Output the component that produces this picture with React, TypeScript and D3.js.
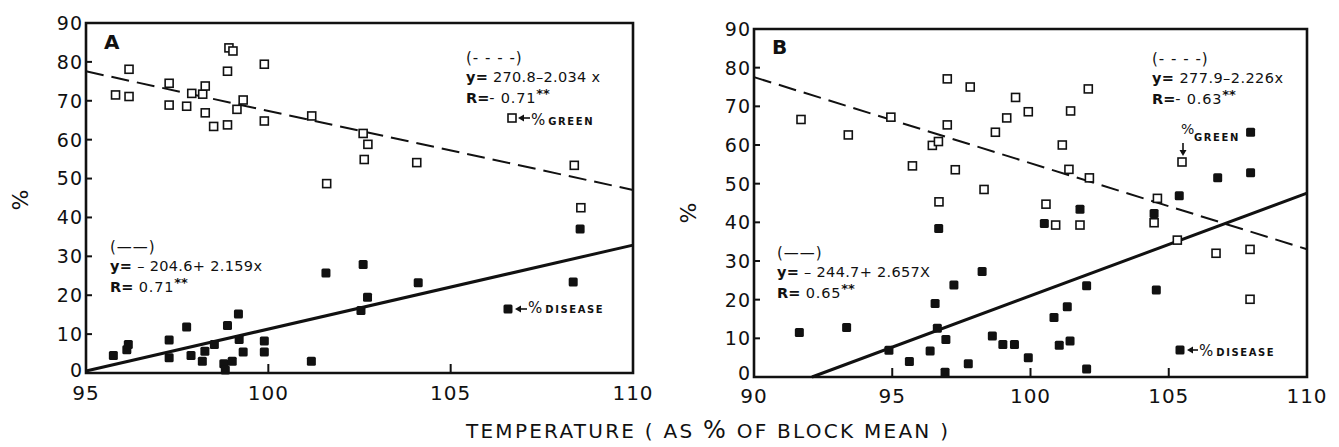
import React from 'react';
import * as d3 from 'd3';

// ---------- data ----------
const A_GREEN_X = [95.81, 96.18, 96.18, 97.28, 97.28, 97.76, 97.9, 98.2, 98.27, 98.27, 98.5, 98.88, 98.88, 98.92, 99.03, 99.14, 99.31, 99.89, 99.89, 101.19, 101.6, 102.6, 102.73, 102.63, 104.07, 108.39, 108.57];
const A_GREEN_Y = [71.5, 78.1, 71.1, 74.5, 68.9, 68.6, 71.9, 71.7, 73.8, 66.9, 63.4, 63.8, 77.6, 83.6, 82.8, 67.8, 70.2, 79.4, 64.8, 66.1, 48.7, 61.6, 58.8, 54.9, 54.1, 53.4, 42.5];
const A_DISEASE_X = [95.75, 96.12, 96.16, 97.28, 97.28, 97.76, 97.88, 98.19, 98.26, 98.52, 98.78, 98.82, 98.88, 99.01, 99.18, 99.2, 99.31, 99.89, 99.89, 101.18, 101.58, 102.6, 102.72, 102.54, 104.11, 108.36, 108.55];
const A_DISEASE_Y = [4.5, 6.0, 7.3, 8.5, 3.9, 11.8, 4.5, 3.0, 5.6, 7.3, 2.4, 0.8, 12.2, 3.0, 15.2, 8.6, 5.4, 8.2, 5.4, 3.0, 25.7, 27.9, 19.5, 16.1, 23.2, 23.4, 37.0];

const B_GREEN_X = [91.7, 93.41, 94.95, 95.73, 96.45, 96.67, 96.99, 96.99, 97.28, 97.82, 98.32, 98.73, 99.14, 99.46, 99.92, 96.69, 102.09, 101.45, 101.15, 101.39, 102.13, 104.59, 100.56, 100.91, 101.79, 104.47, 105.31, 106.71, 107.94, 107.94];
const B_GREEN_Y = [66.6, 62.6, 67.2, 54.6, 59.9, 60.9, 77.1, 65.2, 53.6, 75.0, 48.5, 63.3, 67.0, 72.3, 68.6, 45.3, 74.5, 68.8, 60.0, 53.7, 51.5, 46.2, 44.7, 39.3, 39.3, 39.9, 35.4, 32.0, 33.0, 20.1];
const B_DISEASE_X = [91.64, 93.35, 94.88, 95.62, 96.37, 96.55, 96.63, 96.68, 96.94, 96.91, 97.23, 97.75, 98.25, 98.62, 99.0, 99.42, 99.92, 100.5, 100.85, 101.04, 101.33, 101.43, 101.79, 102.03, 102.03, 104.47, 104.55, 105.38, 106.77, 107.96, 107.96];
const B_DISEASE_Y = [11.5, 12.8, 6.9, 4.0, 6.7, 19.0, 12.6, 38.4, 9.7, 1.2, 23.8, 3.4, 27.3, 10.6, 8.4, 8.4, 5.0, 39.7, 15.4, 8.2, 18.2, 9.3, 43.4, 23.6, 2.1, 42.3, 22.5, 46.9, 51.5, 52.8, 63.3];

// regression fits: [intercept, slope]
const A_GREEN_FIT = [270.8, -2.034];
const A_DISEASE_FIT = [-204.6, 2.159];
const B_GREEN_FIT = [277.9, -2.226];
const B_DISEASE_FIT = [-244.7, 2.657];

const Y_TICKS = [0, 10, 20, 30, 40, 50, 60, 70, 80, 90];
const A_X_TICKS = [95, 100, 105, 110];
const B_X_TICKS = [90, 95, 100, 105, 110];

const A_EQ_GREEN = ['270.8\u20132.034 x', '- 0.71'];
const A_EQ_DISEASE = ['\u2013 204.6+ 2.159x', ' 0.71'];
const B_EQ_GREEN = ['277.9\u20132.226x', '- 0.63'];
const B_EQ_DISEASE = ['\u2013 244.7+ 2.657X', ' 0.65'];

const DASH_KEY = '(- - - -)';
const SOLID_KEY = '(\u2014\u2014)';

const FONT = '"DejaVu Sans", sans-serif';

type PanelProps = {
  label: string;
  left: number; right: number; top: number; bottom: number;
  xDomain: [number, number];
  xTicks: number[];
  xLabelBaseline: number;
  gx: number[]; gy: number[]; dx: number[]; dy: number[];
  gFit: number[]; dFit: number[];
  eqG: string[]; eqD: string[];
  eqGPos: [number, number, number];
  eqDPos: [number, number, number];
  pctX: number; pctY: number;
  legend: React.ReactNode;
  labelPos: [number, number];
};

function fitSegment(fit: number[], domain: [number, number]) {
  let x0 = domain[0];
  const x1 = domain[1];
  if (fit[0] + fit[1] * x0 < 0) x0 = -fit[0] / fit[1];
  return [x0, x1].map((x) => [x, fit[0] + fit[1] * x] as [number, number]);
}

function Equation({ x, y, w, top, eq }: { x: number; y: number; w: number; top: string; eq: string[] }) {
  return (
    <g fontFamily={FONT} fill="#111">
      <text x={x} y={y} fontSize={15} letterSpacing={1}>{top}</text>
      <text x={x} y={y + 19} fontSize={14.5} textLength={w} lengthAdjust="spacing">
        <tspan fontWeight="bold">y=</tspan>
        <tspan> {eq[0]}</tspan>
      </text>
      <text x={x} y={y + 40} fontSize={14.5}>
        <tspan fontWeight="bold">R=</tspan>
        <tspan letterSpacing={0.8}>{eq[1]}</tspan>
        <tspan fontSize={13} fontWeight="bold" dy={-5}>**</tspan>
      </text>
    </g>
  );
}

function Panel(p: PanelProps) {
  const x = d3.scaleLinear().domain(p.xDomain).range([p.left, p.right]);
  const y = d3.scaleLinear().domain([0, 90]).range([p.bottom, p.top]);
  const line = d3.line<[number, number]>().x((d) => x(d[0])).y((d) => y(d[1]));
  const gSeg = fitSegment(p.gFit, p.xDomain);
  const dSeg = fitSegment(p.dFit, p.xDomain);
  const inner = p.xTicks.filter((t) => t !== p.xDomain[0] && t !== p.xDomain[1]);
  const zeroBaseline = p.xLabelBaseline - 23.5;
  return (
    <g>
      <path
        d={`M${p.left},${p.top}V${p.bottom}H${p.right}V${p.top}Z`}
        fill="none" stroke="#111" strokeWidth={2.6}
      />
      {Y_TICKS.filter((t) => t > 0 && t < 90).map((t) => (
        <line key={'yt' + t} x1={p.left} x2={p.left + 6} y1={y(t)} y2={y(t)} stroke="#111" strokeWidth={2} />
      ))}
      {inner.map((t) => (
        <line key={'xt' + t} x1={x(t)} x2={x(t)} y1={p.bottom} y2={p.bottom - 9} stroke="#111" strokeWidth={2} />
      ))}
      {Y_TICKS.map((t) => (
        <text key={'yl' + t} x={p.left - 3} y={t === 0 ? zeroBaseline : y(t)} dy={t === 0 ? 0 : '0.36em'} textAnchor="end"
          fontFamily={FONT} fontSize={19} letterSpacing={1} fill="#111">{t}</text>
      ))}
      {p.xTicks.map((t) => (
        <text key={'xl' + t} x={x(t)} y={p.xLabelBaseline} textAnchor="middle"
          fontFamily={FONT} fontSize={20} letterSpacing={1} fill="#111">{t}</text>
      ))}
      <text x={p.pctX} y={p.pctY} transform={`rotate(-90 ${p.pctX} ${p.pctY})`} textAnchor="middle"
        dy="0.35em" fontFamily={FONT} fontSize={22} fill="#111">%</text>
      <text x={p.labelPos[0]} y={p.labelPos[1]} fontFamily={FONT} fontSize={20} fontWeight="bold" fill="#111">{p.label}</text>
      <path d={line(gSeg) || ''} fill="none" stroke="#111" strokeWidth={2} strokeDasharray="18 8" />
      <path d={line(dSeg) || ''} fill="none" stroke="#111" strokeWidth={3} />
      {p.gx.map((v, i) => (
        <rect key={'g' + i} x={x(v) - 4} y={y(p.gy[i]) - 4} width={8} height={8}
          fill="#fff" stroke="#111" strokeWidth={1.6} />
      ))}
      {p.dx.map((v, i) => (
        <rect key={'d' + i} x={x(v) - 4.5} y={y(p.dy[i]) - 4.5} width={9} height={9} rx={1.5}
          fill="#111" />
      ))}
      <Equation x={p.eqGPos[0]} y={p.eqGPos[1]} w={p.eqGPos[2]} top={DASH_KEY} eq={p.eqG} />
      <Equation x={p.eqDPos[0]} y={p.eqDPos[1]} w={p.eqDPos[2]} top={SOLID_KEY} eq={p.eqD} />
      {p.legend}
    </g>
  );
}

function LeftArrow({ x1, x2, y }: { x1: number; x2: number; y: number }) {
  return (
    <g>
      <line x1={x1 + 4} x2={x2} y1={y} y2={y} stroke="#111" strokeWidth={1.6} />
      <path d={`M${x1},${y}L${x1 + 6},${y - 3.5}L${x1 + 6},${y + 3.5}Z`} fill="#111" />
    </g>
  );
}

function DownArrow({ x, y1, y2 }: { x: number; y1: number; y2: number }) {
  return (
    <g>
      <line x1={x} x2={x} y1={y1} y2={y2 - 4} stroke="#111" strokeWidth={1.6} />
      <path d={`M${x},${y2}L${x - 3.5},${y2 - 6}L${x + 3.5},${y2 - 6}Z`} fill="#111" />
    </g>
  );
}

function KeyLabel({ x, y, word }: { x: number; y: number; word: string }) {
  return (
    <text x={x} y={y} fontFamily={FONT} fill="#111">
      <tspan fontSize={15}>%</tspan>
      <tspan fontSize={10} fontWeight="bold" letterSpacing={1.6} dx={3}>{word}</tspan>
    </text>
  );
}

export default function App() {
  const legendA = (
    <g>
      <rect x={508} y={114} width={8} height={8} fill="#fff" stroke="#111" strokeWidth={1.6} />
      <LeftArrow x1={518} x2={530} y={118} />
      <KeyLabel x={531} y={125} word="GREEN" />
      <rect x={503.5} y={304.5} width={9} height={9} rx={1.5} fill="#111" />
      <LeftArrow x1={515} x2={527} y={309} />
      <KeyLabel x={528} y={313} word="DISEASE" />
    </g>
  );
  const legendB = (
    <g>
      <text x={1181} y={134} fontFamily={FONT} fontSize={14} fill="#111">%</text>
      <text x={1194} y={141} fontFamily={FONT} fontSize={10} fontWeight="bold" letterSpacing={1.6} fill="#111">GREEN</text>
      <DownArrow x={1183} y1={143} y2={156} />
      <rect x={1178} y={158} width={8} height={8} fill="#fff" stroke="#111" strokeWidth={1.6} />
      <rect x={1175.5} y={345.5} width={9} height={9} rx={1.5} fill="#111" />
      <LeftArrow x1={1187} x2={1198} y={350} />
      <KeyLabel x={1199} y={356} word="DISEASE" />
    </g>
  );
  return (
    <svg width={1339} height={447} style={{ display: 'block', position: 'absolute', left: 0, top: 0, background: '#fff' }}>
      <rect x={0} y={0} width={1339} height={447} fill="#fff" />
      <Panel
        label="A" left={86} right={633} top={23} bottom={373}
        xDomain={[95, 110]} xTicks={A_X_TICKS} xLabelBaseline={400}
        gx={A_GREEN_X} gy={A_GREEN_Y} dx={A_DISEASE_X} dy={A_DISEASE_Y}
        gFit={A_GREEN_FIT} dFit={A_DISEASE_FIT}
        eqG={A_EQ_GREEN} eqD={A_EQ_DISEASE}
        eqGPos={[466, 63, 134]} eqDPos={[110, 252, 152]}
        pctX={20} pctY={200} legend={legendA} labelPos={[104, 49]}
      />
      <Panel
        label="B" left={754} right={1307} top={29} bottom={377}
        xDomain={[90, 110]} xTicks={B_X_TICKS} xLabelBaseline={403}
        gx={B_GREEN_X} gy={B_GREEN_Y} dx={B_DISEASE_X} dy={B_DISEASE_Y}
        gFit={B_GREEN_FIT} dFit={B_DISEASE_FIT}
        eqG={B_EQ_GREEN} eqD={B_EQ_DISEASE}
        eqGPos={[1152, 64, 131]} eqDPos={[777, 258, 153]}
        pctX={688} pctY={213} legend={legendB} labelPos={[772, 54]}
      />
      <text x={466} y={438} fontFamily={FONT} fontSize={20} fill="#111" textLength={482} lengthAdjust="spacing">
        TEMPERATURE ( AS <tspan fontSize={24}>%</tspan> OF BLOCK MEAN )
      </text>
    </svg>
  );
}
